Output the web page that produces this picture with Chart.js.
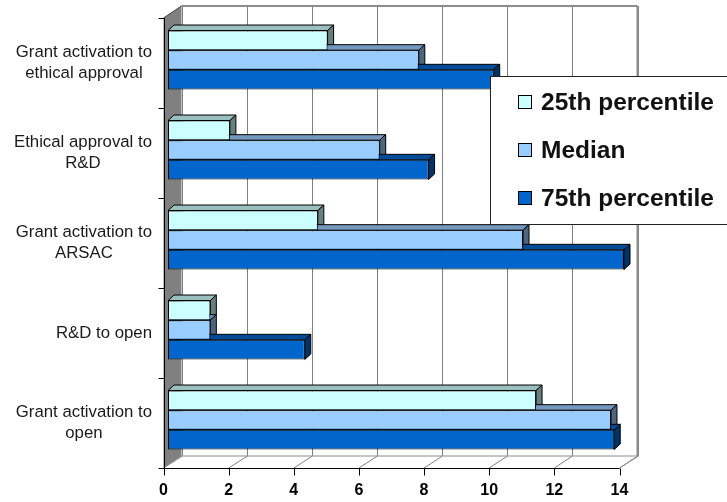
<!DOCTYPE html>
<html>
<head>
<meta charset="utf-8">
<script src="https://cdn.jsdelivr.net/npm/chart.js@4.4.0/dist/chart.umd.min.js"></script>
<style>
  html, body { margin: 0; padding: 0; background: #ffffff; }
  #c { display: block; }
</style>
</head>
<body>
<canvas id="c" width="727" height="502"></canvas>
<script>
// Stages of study set-up (time taken, per stage)
const categories = [
  ['Grant activation to', 'ethical approval'],
  ['Ethical approval to', 'R&D'],
  ['Grant activation to', 'ARSAC'],
  ['R&D to open'],
  ['Grant activation to', 'open']
];
const seriesNames = ['25th percentile', 'Median', '75th percentile'];
const p25Values    = [4.9, 1.9, 4.6, 1.3, 11.3];
const medianValues = [7.7, 6.5, 10.9, 1.3, 13.6];
const p75Values    = [10.0, 8.0, 14.0, 4.2, 13.7];
const xTickValues  = [0, 2, 4, 6, 8, 10, 12, 14];

// Face colours: front, top (lit), side (shaded)
const palette = [
  { front: '#CCFFFF', top: '#99BFBF', side: '#668080' },
  { front: '#99CCFF', top: '#7399BF', side: '#4D6680' },
  { front: '#0066CC', top: '#004C99', side: '#003366' }
];

// Oblique projection offsets relative to the bar plane
const barDepth  = { dx: 6,    dy: -5.5 };
const frontEdge = { dx: -4.5, dy: 3 };
const backWall  = { dx: 13.5, dy: -9 };

const FONT = '"Liberation Sans", Arial, sans-serif';

function line(ctx, x1, y1, x2, y2) {
  ctx.beginPath();
  ctx.moveTo(x1, y1);
  ctx.lineTo(x2, y2);
  ctx.stroke();
}

function poly(ctx, pts, fill, stroke) {
  ctx.beginPath();
  ctx.moveTo(pts[0][0], pts[0][1]);
  for (let i = 1; i < pts.length; i++) ctx.lineTo(pts[i][0], pts[i][1]);
  ctx.closePath();
  if (fill) { ctx.fillStyle = fill; ctx.fill(); }
  if (stroke) { ctx.strokeStyle = stroke; ctx.stroke(); }
}

const box3d = {
  id: 'box3d',
  beforeDatasetsDraw(chart) {
    const ctx = chart.ctx;
    const a = chart.chartArea;
    const xs = chart.scales.x;
    const ys = chart.scales.y;

    const bl = a.left + backWall.dx,  bt = a.top + backWall.dy;
    const br = a.right + backWall.dx, bb = a.bottom + backWall.dy;
    const fl = a.left + frontEdge.dx, ft = a.top + frontEdge.dy;
    const fr = a.right + frontEdge.dx, fb = a.bottom + frontEdge.dy;

    ctx.save();
    ctx.lineCap = 'butt';

    // back wall gridlines and their floor continuation
    ctx.strokeStyle = '#808080';
    ctx.lineWidth = 1;
    xTickValues.forEach(v => {
      const x = Math.round(xs.getPixelForValue(v) + backWall.dx) + 0.5;
      const xf = xs.getPixelForValue(v) + frontEdge.dx;
      line(ctx, x, bt, x, bb);
      line(ctx, x, bb, xf, fb);
    });

    // wall and floor outlines
    ctx.strokeStyle = '#8c8c8c';
    ctx.lineWidth = 2;
    line(ctx, bl, bt, br, bt);
    line(ctx, br, bt, br, bb);
    ctx.lineWidth = 1;
    line(ctx, bl, bb, br, bb);
    line(ctx, br, bb, fr, fb);

    // side wall
    poly(ctx, [[fl, ft], [bl, bt], [bl, bb], [fl, fb]], '#808080', null);
    ctx.strokeStyle = '#404040';
    line(ctx, fl, ft, bl, bt);

    // axes
    ctx.strokeStyle = '#000000';
    ctx.lineWidth = 1;
    const axY = Math.round(fb) + 0.5;
    const axX = Math.round(fl) + 0.5;
    line(ctx, axX, ft, axX, axY);
    line(ctx, axX, axY, fr, axY);
    xTickValues.forEach(v => {
      const x = Math.round(xs.getPixelForValue(v) + frontEdge.dx) + 0.5;
      line(ctx, x, axY, x, axY + 7);
    });
    for (let k = 0; k <= categories.length; k++) {
      const y = Math.round(ys.getPixelForValue(k - 0.5) + frontEdge.dy) + 0.5;
      line(ctx, axX - 6, y, axX, y);
    }

    // top and end faces of every bar
    ctx.lineWidth = 1;
    ctx.lineJoin = 'round';
    chart.data.datasets.forEach((ds, di) => {
      const meta = chart.getDatasetMeta(di);
      const col = palette[di];
      meta.data.forEach(el => {
        const p = el.getProps(['x', 'y', 'base', 'height'], true);
        const top = p.y - p.height / 2, bottom = p.y + p.height / 2;
        const left = p.base, right = p.x;
        const dx = barDepth.dx, dy = barDepth.dy;
        poly(ctx, [[left, top], [left + dx, top + dy], [right + dx, top + dy], [right, top]], col.top, '#000');
        poly(ctx, [[right, top], [right + dx, top + dy], [right + dx, bottom + dy], [right, bottom]], col.side, '#000');
      });
    });
    ctx.restore();
  },
  afterDraw(chart) {
    const ctx = chart.ctx;
    const a = chart.chartArea;
    const ys = chart.scales.y;
    ctx.save();

    // category labels: block right-aligned, lines centred within the block
    ctx.font = '16.8px ' + FONT;
    ctx.fillStyle = '#1a1a1a';
    ctx.textBaseline = 'middle';
    ctx.textAlign = 'center';
    const lineH = 21.6;
    const labelRight = a.left + frontEdge.dx - 11.5;
    categories.forEach((lines, i) => {
      const cy = ys.getPixelForValue(i) + frontEdge.dy;
      const w = Math.max(...lines.map(t => ctx.measureText(t).width));
      const cx = labelRight - w / 2;
      lines.forEach((t, j) => {
        ctx.fillText(t, cx, cy + (j - (lines.length - 1) / 2) * lineH);
      });
    });

    // legend box
    ctx.fillStyle = '#ffffff';
    ctx.fillRect(490.5, 76.5, 260, 148);
    ctx.strokeStyle = '#222222';
    ctx.lineWidth = 1;
    ctx.strokeRect(490.5, 76.5, 260, 148);
    ctx.font = 'bold 24.5px ' + FONT;
    ctx.textAlign = 'left';
    seriesNames.forEach((name, k) => {
      const y = 102 + k * 48;
      ctx.fillStyle = palette[k].front;
      ctx.fillRect(518, y - 7, 14, 14);
      ctx.strokeStyle = '#000';
      ctx.strokeRect(518.5, y - 6.5, 13, 13);
      ctx.fillStyle = '#111111';
      ctx.fillText(name, 541, y + 1);
    });
    ctx.restore();
  }
};

const datasets = [p25Values, medianValues, p75Values].map((vals, i) => ({
  label: seriesNames[i],
  data: vals,
  backgroundColor: palette[i].front,
  borderColor: '#000000',
  borderWidth: 1,
  borderSkipped: false,
  categoryPercentage: 0.655,
  barPercentage: 1.0
}));

new Chart(document.getElementById('c'), {
  type: 'bar',
  data: { labels: categories, datasets },
  plugins: [box3d],
  options: {
    indexAxis: 'y',
    responsive: false,
    animation: false,
    devicePixelRatio: 1,
    layout: { padding: { top: 15, right: 103, bottom: 0, left: 0 } },
    plugins: { legend: { display: false }, tooltip: { enabled: false } },
    scales: {
      x: {
        min: 0,
        max: 14,
        grid: { display: false, drawTicks: false },
        border: { display: false },
        afterBuildTicks: s => { s.ticks = xTickValues.map(v => ({ value: v })); },
        ticks: {
          padding: 16,
          labelOffset: frontEdge.dx,
          color: '#000000',
          font: { family: FONT, weight: 'bold', size: 16 }
        },
        afterFit: s => { s.height = 37; }
      },
      y: {
        grid: { display: false, drawTicks: false },
        border: { display: false },
        ticks: { display: false },
        afterFit: s => { s.width = 168; }
      }
    }
  }
});
</script>
</body>
</html>
